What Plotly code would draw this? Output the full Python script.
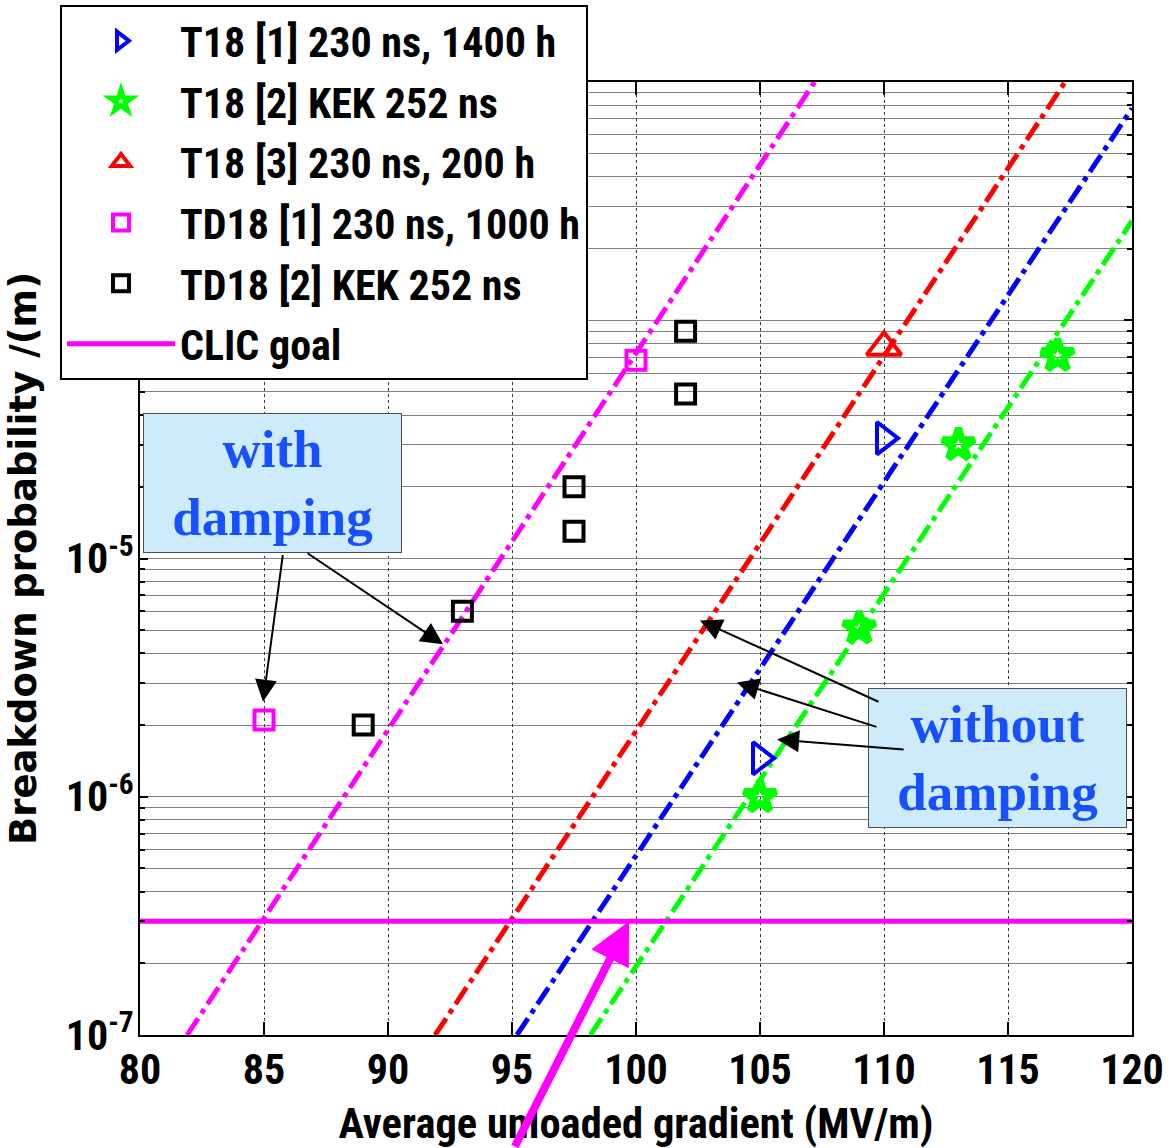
import numpy as np
import plotly.graph_objects as go

# ---------------- data ----------------
x_ticks = [80, 85, 90, 95, 100, 105, 110, 115, 120]
y_tickvals = [1e-7, 1e-6, 1e-5, 1e-4, 1e-3]
y_ticktext = ["10<sup>-7</sup>", "10<sup>-6</sup>", "10<sup>-5</sup>",
              "10<sup>-4</sup>", "10<sup>-3</sup>"]

# T18 [1] 230 ns, 1400 h
t18_1_x = [105, 110]
t18_1_y = [1.45e-6, 3.2e-5]
# T18 [2] KEK 252 ns
t18_2_x = [105, 109, 113, 117]
t18_2_y = [1.0e-6, 5.1e-6, 3.0e-5, 7.1e-5]
# T18 [3] 230 ns, 200 h
t18_3_x = [110]
t18_3_y = [7.7e-5]
# TD18 [1] 230 ns, 1000 h
td18_1_x = [85, 100]
td18_1_y = [2.1e-6, 6.8e-5]
# TD18 [2] KEK 252 ns
td18_2_x = [89, 93, 97.5, 97.5, 102, 102]
td18_2_y = [2.0e-6, 6.0e-6, 1.3e-5, 2.0e-5, 4.9e-5, 9.0e-5]

# CLIC goal
goal_x = [80, 120]
goal_y = [3e-7, 3e-7]

# fitted trend lines (end points)
fit_td18_x = [81.9, 107.2]
fit_td18_y = [1e-7, 1e-3]
fit_t18_3_x = [91.9, 117.3]
fit_t18_3_y = [1e-7, 1e-3]
fit_t18_1_x = [95.2, 120]
fit_t18_1_y = [1e-7, 7.75e-4]
fit_t18_2_x = [98.16, 120]
fit_t18_2_y = [1e-7, 2.61e-4]

# ---------------- styling ----------------
NARROW = "Roboto Condensed, Noto Sans Condensed, Liberation Sans Narrow, Arial Narrow, Liberation Sans, sans-serif"
WIDE = "DejaVu Sans, Liberation Sans, sans-serif"
SERIF = "Liberation Serif, Times New Roman, serif"
DASHDOT = "20px,6px,5px,6px"
BLUE, GREEN, RED, MAG = "#0000ff", "#00ff00", "#ff0000", "#ff00ff"

fig = go.Figure()

for fx, fy, col in [(fit_td18_x, fit_td18_y, MAG), (fit_t18_3_x, fit_t18_3_y, RED),
                    (fit_t18_1_x, fit_t18_1_y, BLUE), (fit_t18_2_x, fit_t18_2_y, GREEN)]:
    fig.add_trace(go.Scatter(x=fx, y=fy, mode="lines", showlegend=False,
                             line=dict(color=col, width=5, dash=DASHDOT),
                             hoverinfo="skip"))

fig.add_trace(go.Scatter(x=t18_1_x, y=t18_1_y, mode="markers", name="T18 [1] 230 ns, 1400 h",
                         legendgroup="g1",
                         marker=dict(symbol="triangle-right-open", size=28, color=BLUE,
                                     line=dict(width=4, color=BLUE))))
fig.add_trace(go.Scatter(x=t18_2_x, y=t18_2_y, mode="markers", name="T18 [2] KEK 252 ns",
                         legendgroup="g2",
                         marker=dict(symbol="star-open", size=24, color=GREEN,
                                     line=dict(width=7, color=GREEN))))
fig.add_trace(go.Scatter(x=t18_3_x, y=t18_3_y, mode="markers", name="T18 [3] 230 ns, 200 h",
                         legendgroup="g3",
                         marker=dict(symbol="triangle-up-open", size=30, color=RED,
                                     line=dict(width=4, color=RED))))
fig.add_trace(go.Scatter(x=td18_1_x, y=td18_1_y, mode="markers", name="TD18 [1] 230 ns, 1000 h",
                         legendgroup="g4",
                         marker=dict(symbol="square-open", size=19, color=MAG,
                                     line=dict(width=4, color=MAG))))
fig.add_trace(go.Scatter(x=td18_2_x, y=td18_2_y, mode="markers", name="TD18 [2] KEK 252 ns",
                         legendgroup="g5",
                         marker=dict(symbol="square-open", size=19, color="black",
                                     line=dict(width=4, color="black"))))
fig.add_trace(go.Scatter(x=goal_x, y=goal_y, mode="lines", name="CLIC goal",
                         legendgroup="g6",
                         line=dict(color=MAG, width=5)))

L, R, T, B = 140, 40, 82, 113
W, H = 1172, 1148
PW, PH = W - L - R, H - T - B


def px(xp):
    return (xp - L) / PW


def py(yp):
    return (H - B - yp) / PH


annotations = []
# text boxes
for cx, cy, txt in [(272.5, 483, "with<br>damping"), (997.5, 757.5, "without<br>damping")]:
    annotations.append(dict(xref="paper", yref="paper", x=px(cx), y=py(cy),
                            xanchor="center", yanchor="middle", showarrow=False,
                            text="<b>%s</b>" % txt, align="center", valign="middle",
                            width=257, height=138, borderpad=0,
                            bgcolor="#cdebfb", bordercolor="#4d4d4d", borderwidth=1,
                            font=dict(family=SERIF, size=53, color="#1750ff")))

# black arrows: tip (data x, log10 y) and tail offset in px
for tx, ty, ax, ay in [(84.96, -5.601, 20, -148), (92.22, -5.36, -137, -92),
                       (102.58, -5.26, 180, 82), (104.07, -5.52, 141, 45),
                       (105.69, -5.76, 128, 10)]:
    annotations.append(dict(xref="x", yref="y", x=tx, y=ty, ax=ax, ay=ay, text="",
                            showarrow=True, arrowhead=2, arrowsize=2.2, arrowwidth=2,
                            arrowcolor="black", standoff=0))
# big magenta arrow towards CLIC goal
annotations.append(dict(xref="x", yref="y", x=99.72, y=np.log10(3e-7), ax=-115, ay=257,
                        text="", showarrow=True, arrowhead=2, arrowsize=1.05, arrowwidth=8,
                        arrowcolor=MAG, standoff=0))

fig.update_layout(
    template="none",
    width=W, height=H,
    margin=dict(l=L, r=R, t=T, b=B, pad=0, autoexpand=False),
    paper_bgcolor="white", plot_bgcolor="white",
    showlegend=True,
    legend=dict(x=px(60), y=py(5), xanchor="left", yanchor="top",
                bgcolor="white", bordercolor="black", borderwidth=2,
                font=dict(family=NARROW, size=42, color="black", weight="bold"),
                itemwidth=108, traceorder="grouped", tracegroupgap=3),
    annotations=annotations,
    xaxis=dict(range=[80, 120], tickvals=x_ticks, ticks="inside", ticklen=13, tickwidth=2,
               tickcolor="black", mirror="ticks", showline=True, linecolor="black", linewidth=2,
               showgrid=True, gridcolor="#3a3a3a", griddash="dot", gridwidth=1, zeroline=False,
               tickfont=dict(family=NARROW, size=42, color="black", weight="bold"),
               ticklabelstandoff=-3,
               title=dict(text="Average unloaded gradient (MV/m)", standoff=19,
                          font=dict(family=NARROW, size=42.5, color="black", weight="bold"))),
    yaxis=dict(type="log", range=[-7, -3], tickvals=y_tickvals, ticktext=y_ticktext,
               ticks="inside", ticklen=8, tickwidth=2, tickcolor="black", mirror="ticks",
               showline=True, linecolor="black", linewidth=2, zeroline=False,
               showgrid=True, gridcolor="#808080", gridwidth=1,
               minor=dict(dtick="D1", ticks="inside", ticklen=5, tickwidth=2, tickcolor="black",
                          showgrid=True, gridcolor="#808080", gridwidth=1),
               tickfont=dict(family=NARROW, size=42, color="black", weight="bold"),
               ticklabelstandoff=-4,
               title=dict(text="Breakdown probability /(m)", standoff=18,
                          font=dict(family=WIDE, size=37, color="black", weight="bold"))),
)

fig.write_html("out.html")
